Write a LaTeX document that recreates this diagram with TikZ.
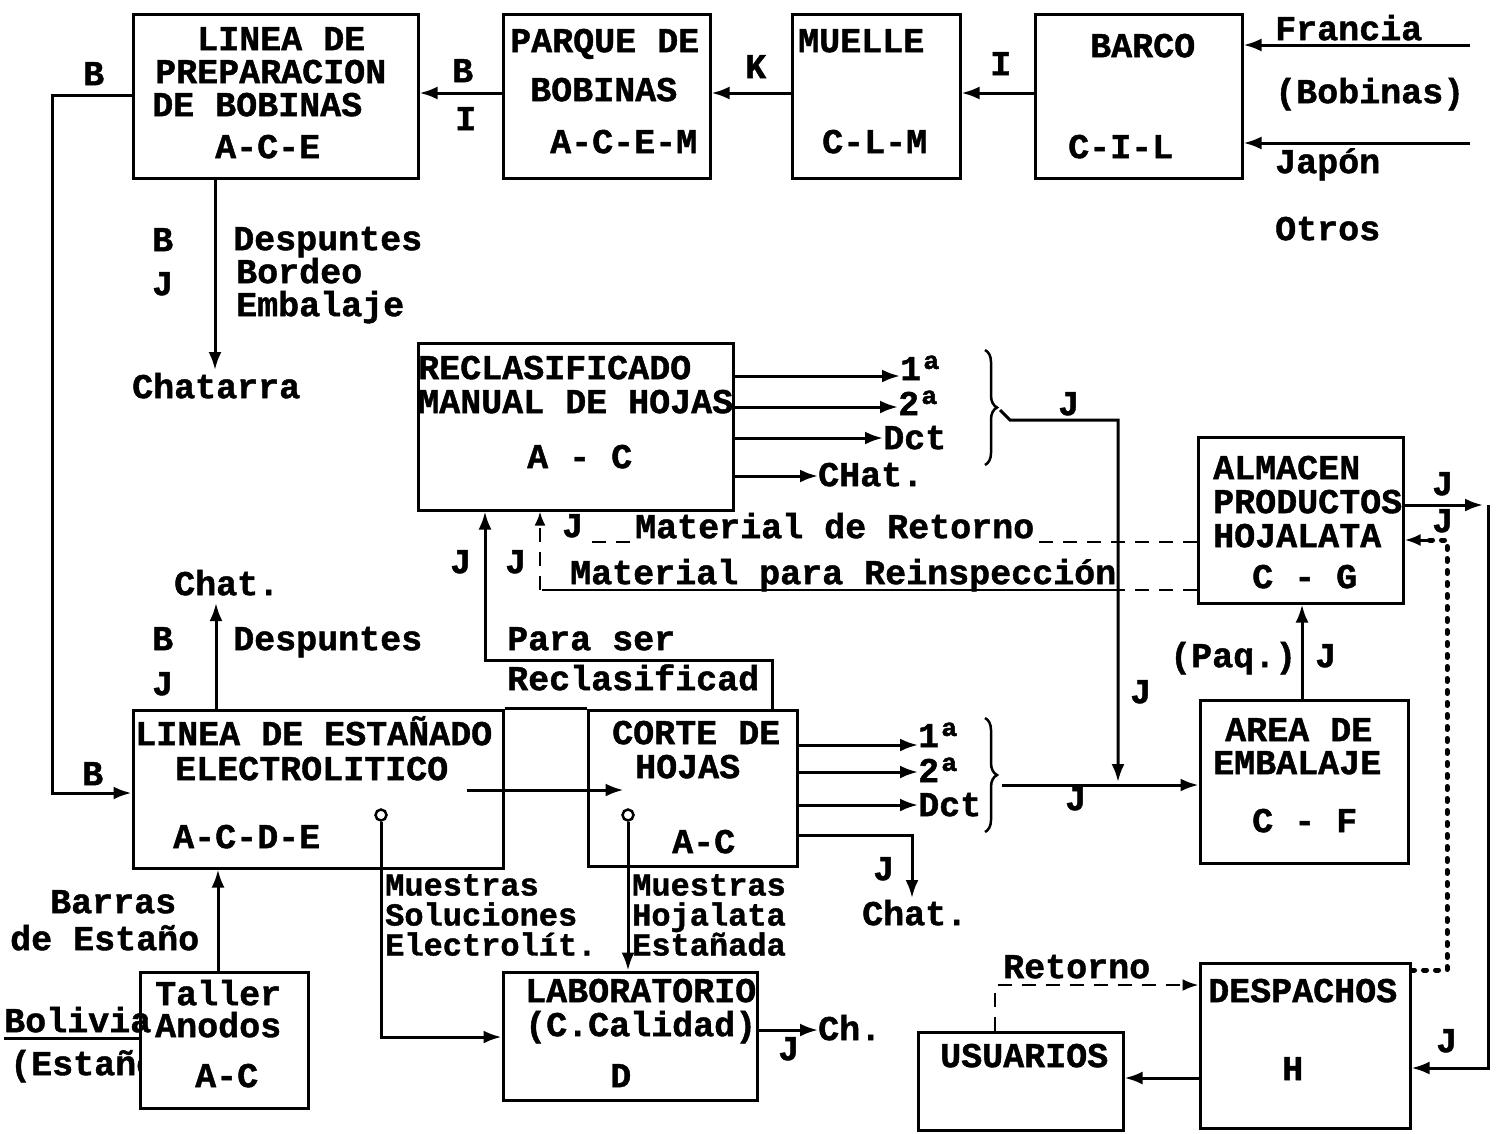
\documentclass[tikz,border=0pt]{standalone}
\usepackage{fontspec}
\newfontfamily\tw{Liberation Mono}[FakeBold=1.2]
\usetikzlibrary{arrows.meta,decorations.pathreplacing,calc}
\begin{document}
\begin{tikzpicture}[x=1pt,y=-1pt,
  txt/.style={font=\tw\bfseries\fontsize{35}{31}\selectfont, inner sep=0pt, anchor=mid west, yshift=-8pt},
  txtm/.style={font=\tw\bfseries\fontsize{32}{30}\selectfont, inner sep=0pt, anchor=north west, align=left},
  box/.style={draw, line width=3pt, fill=white, inner sep=0pt},
  ln/.style={line width=3pt},
  arr/.style={line width=3pt, -{Latex[length=18pt,width=13pt]}},
  dsh/.style={line width=2.5pt, dash pattern=on 14pt off 10pt},
  dot/.style={line width=5pt, line cap=round, dash pattern=on 3pt off 9pt},
  brc/.style={line width=2.5pt, decorate, decoration={brace, amplitude=12pt}},
  ring/.style={circle, draw, line width=2.5pt, minimum size=11pt, inner sep=0pt, fill=white}
]
\useasboundingbox (0,0) rectangle (1503,1133);
\fill[white] (0,0) rectangle (1503,1133);

% text hidden partly behind the Taller box
\node[txt] (estan) at (10,1065) {(Estaño)};

% ---------- boxes ----------
\node[box, minimum width=285pt, minimum height=164pt] (prep)   at (275.5,96) {};
\node[box, minimum width=207pt, minimum height=164pt] (parque) at (606.5,96) {};
\node[box, minimum width=168pt, minimum height=164pt] (muelle) at (876,96) {};
\node[box, minimum width=207pt, minimum height=164pt] (barco)  at (1138.5,96) {};
\node[box, minimum width=315pt, minimum height=167pt] (reclas) at (575.5,426.5) {};
\node[box, minimum width=205pt, minimum height=166pt] (alm)    at (1300.5,520) {};
\node[box, minimum width=370pt, minimum height=158pt] (elect)  at (318,789) {};
\node[box, minimum width=209pt, minimum height=156pt] (corte)  at (692.5,788) {};
\node[box, minimum width=208pt, minimum height=163pt] (area)   at (1304,781.5) {};
\node[box, minimum width=168pt, minimum height=136pt] (taller) at (224,1040) {};
\node[box, minimum width=254pt, minimum height=128pt] (lab)    at (630,1036) {};
\node[box, minimum width=210pt, minimum height=165pt] (desp)   at (1305,1045.5) {};
\node[box, minimum width=205pt, minimum height=98pt]  (usu)    at (1020.5,1081) {};

% ---------- box texts ----------
\node[txt] (p1) at (197,40)  {LINEA DE};
\node[txt] (p2) at (155,73)  {PREPARACION};
\node[txt] (p3) at (152,106) {DE  BOBINAS};
\node[txt] (p4) at (215,148) {A-C-E};
\node[txt] (q1) at (510,42)  {PARQUE DE};
\node[txt] (q2) at (530,91)  {BOBINAS};
\node[txt] (q3) at (550,143) {A-C-E-M};
\node[txt] (m1) at (798,42)  {MUELLE};
\node[txt] (m2) at (822,143) {C-L-M};
\node[txt] (b1) at (1090,47) {BARCO};
\node[txt] (b2) at (1068,148) {C-I-L};
\node[txt] (r1) at (418,369) {RECLASIFICADO};
\node[txt] (r2) at (418,403) {MANUAL DE HOJAS};
\node[txt] (r3) at (527,458) {A - C};
\node[txt] (a1) at (1213,469) {ALMACEN};
\node[txt] (a2) at (1213,503) {PRODUCTOS};
\node[txt] (a3) at (1213,537) {HOJALATA};
\node[txt] (a4) at (1252,578) {C - G};
\node[txt] (e1) at (135,735) {LINEA DE ESTAÑADO};
\node[txt] (e2) at (175,770) {ELECTROLITICO};
\node[txt] (e3) at (173,838) {A-C-D-E};
\node[txt] (k1) at (612,734) {CORTE DE};
\node[txt] (k2) at (635,768) {HOJAS};
\node[txt] (k3) at (672,843) {A-C};
\node[txt] (f1) at (1225,731) {AREA DE};
\node[txt] (f2) at (1213,764) {EMBALAJE};
\node[txt] (f3) at (1252,822) {C - F};
\node[txt] (t1) at (155,995) {Taller};
\node[txt] (t2) at (155,1027) {Anodos};
\node[txt] (t3) at (195,1077) {A-C};
\node[txt] (d1) at (525,992) {LABORATORIO};
\node[txt] (d2) at (525,1026) {(C.Calidad)};
\node[txt] (d3) at (610,1077) {D};
\node[txt] (h1) at (1208,992) {DESPACHOS};
\node[txt] (h2) at (1282,1070) {H};
\node[txt] (u1) at (940,1057) {USUARIOS};

% ---------- free labels ----------
\node[txt] (lB1) at (83,75) {B};
\node[txt] (lB2) at (452,72) {B};
\node[txt] (lI1) at (455,120) {I};
\node[txt] (lK)  at (745,68) {K};
\node[txt] (lI2) at (990,65) {I};
\node[txt] (fra) at (1275,30) {Francia};
\node[txt] (bob) at (1275,93) {(Bobinas)};
\node[txt] (jap) at (1275,163) {Japón};
\node[txt] (otr) at (1275,230) {Otros};
\node[txt] (lB3) at (152,241) {B};
\node[txt] (lJ1) at (152,285) {J};
\node[txt] (dsp1) at (233,240) {Despuntes};
\node[txt] (bor) at (236,273) {Bordeo};
\node[txt] (emb) at (236,306) {Embalaje};
\node[txt] (chatarra) at (132,388) {Chatarra};
\node[txt] (s1) at (900,370) {1ª};
\node[txt] (s2) at (898,405) {2ª};
\node[txt] (s3) at (883,439) {Dct};
\node[txt] (s4) at (818,476) {CHat.};
\node[txt] (lJ2) at (1058,405) {J};
\node[txt] (lJ3) at (562,527) {J};
\node[txt] (mret) at (635,528) {Material de Retorno};
\node[txt] (mrei) at (570,574) {Material para Reinspección};
\node[txt] (lJ4) at (450,563) {J};
\node[txt] (lJ5) at (505,563) {J};
\node[txt] (chat2) at (174,585) {Chat.};
\node[txt] (lB4) at (152,640) {B};
\node[txt] (lJ6) at (152,685) {J};
\node[txt] (dsp2) at (233,640) {Despuntes};
\node[txt] (para) at (507,640) {Para ser};
\node[txt] (recl) at (507,680) {Reclasificad};
\node[txt] (paq) at (1170,657) {(Paq.)};
\node[txt] (lJ7) at (1315,657) {J};
\node[txt] (lJ8) at (1130,693) {J};
\node[txt] (lB5) at (82,775) {B};
\node[txt] (c1a) at (918,737) {1ª};
\node[txt] (c2a) at (918,772) {2ª};
\node[txt] (cdt) at (918,806) {Dct};
\node[txt] (lJ9) at (1065,800) {J};
\node[txt] (lJ10) at (873,870) {J};
\node[txt] (chat3) at (862,915) {Chat.};
\node[txtm] (msol) at (385,874) {Muestras\\Soluciones\\Electrolít.};
\node[txtm] (mhoj) at (632,874) {Muestras\\Hojalata\\Estañada};
\node[txt] (bar1) at (50,903) {Barras};
\node[txt] (bar2) at (10,940) {de Estaño};
\node[txt] (bol) at (4,1022) {Bolivia};
\node[txt] (ch) at (818,1030) {Ch.};
\node[txt] (lJ11) at (778,1050) {J};
\node[txt] (ret) at (1003,968) {Retorno};
\node[txt] (lJ12) at (1432,485) {J};
\node[txt] (lJ13) at (1432,522) {J};
\node[txt] (lJ14) at (1436,1042) {J};

\node[ring] (o1) at (381,815) {};
\node[ring] (o2) at (628,815) {};

% ---------- connectors ----------
\draw[arr] (parque.west |- 0,93) -- (prep.east |- 0,93);
\draw[arr] (muelle.west |- 0,93) -- (parque.east |- 0,93);
\draw[arr] (barco.west |- 0,93) -- (muelle.east |- 0,93);
\coordinate (fr) at (1470,45);
\coordinate (jp) at (1470,143);
\draw[arr] (fr) -- (barco.east |- fr);
\draw[arr] (jp) -- (barco.east |- jp);
\draw[arr] (prep.south -| 215,0) -- (215,370);
\draw[arr] (prep.west |- 0,95) -- (52,95) -- (52,793) -- (elect.west |- 0,793);
\coordinate (chtop) at (216,603);
\draw[arr] (elect.north -| chtop) -- (chtop);
\draw[arr] (taller.north -| 218,0) -- (elect.south -| 218,0);
\draw[ln] (4,1038) -- (taller.west |- 0,1038);
\draw[arr] (o1.south) -- (381,1037) -- (lab.west |- 0,1037);
\draw[arr] (o2.south) -- (lab.north -| o2);
\draw[arr] ($(elect.east)+(-38,1)$) -- ($(corte.west)+(37,2)$);
\draw[ln] (elect.north east) -- (corte.north west);
\draw[arr] (corte.north -| 772,0) -- (772,660) -- (485,660) -- (reclas.south -| 485,0);
\draw[dsh] (alm.west |- 0,590) -- (1120,590);
\draw[line width=2.5pt] (1120,590) -- (542,590);
\draw[dsh, -{Latex[length=14pt,width=11pt]}] (540,590) -- (reclas.south -| 540,0);
\draw[dsh] (alm.west |- 0,542) -- (1035,542);
\draw[dsh] (630,542) -- (588,542);
\draw[arr] (reclas.east |- 0,376) -- (s1.west |- 0,376);
\draw[arr] (reclas.east |- 0,407) -- (s2.west |- 0,407);
\draw[arr] (reclas.east |- 0,438) -- (s3.west |- 0,438);
\draw[arr] (reclas.east |- 0,476) -- (s4.west |- 0,476);
\draw[brc] (985,350) -- (985,465);
\draw[arr] (1000,410) -- (1010,420) -- (1118,420) -- (1118,782);
\draw[arr] (corte.east |- 0,745) -- (c1a.west |- 0,745);
\draw[arr] (corte.east |- 0,772) -- (c2a.west |- 0,772);
\draw[arr] (corte.east |- 0,805) -- (cdt.west |- 0,805);
\draw[arr] (corte.east |- 0,835) -- (912,835) -- (912,898);
\draw[brc] (985,718) -- (985,832);
\draw[arr] (1002,785) -- (area.west |- 0,785);
\draw[arr] (area.north -| 1302,0) -- (alm.south -| 1302,0);
\draw[arr] (alm.east |- 0,505) -- (1483,505);
\draw[arr] (1488,505) -- (1488,1068) -- (desp.east |- 0,1068);
\draw[dot] (desp.east |- 0,970) -- (1447,970) -- (1447,540) -- (1425,540);
\draw[line width=3pt, -{Latex[length=16pt,width=12pt]}] (1428,540) -- (alm.east |- 0,540);
\draw[arr] (desp.west |- 0,1078) -- (usu.east |- 0,1078);
\draw[dsh, -{Latex[length=16pt,width=12pt]}] (usu.north -| 995,0) -- (995,985) -- (desp.west |- 0,985);
\draw[arr] (lab.east |- 0,1030) -- (ch.west |- 0,1030);
\end{tikzpicture}
\end{document}
